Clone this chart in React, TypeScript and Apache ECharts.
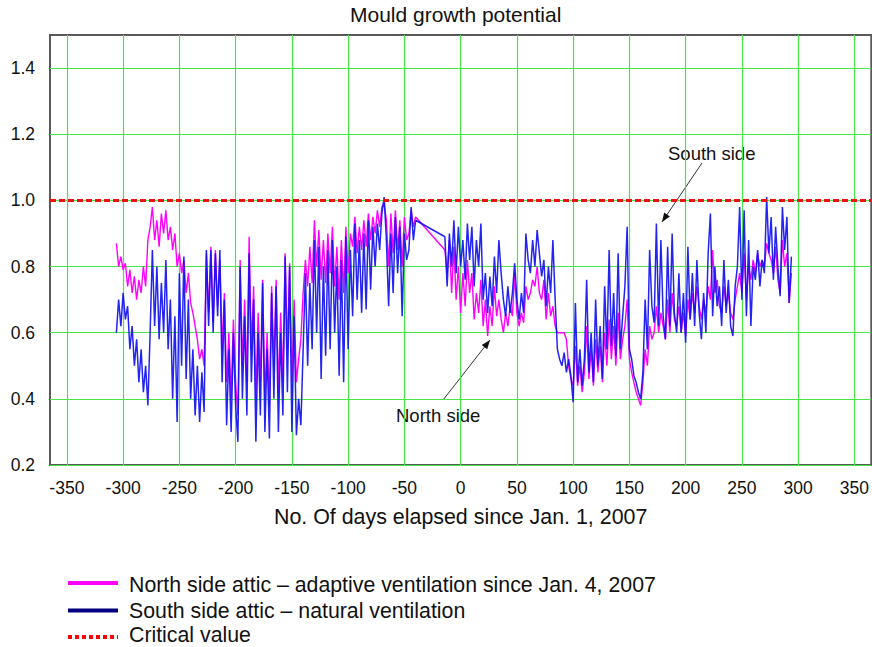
import React, { useEffect, useRef } from 'react';
import * as echarts from 'echarts';

const TITLE = 'Mould growth potential';
const X_NAME = 'No. Of days elapsed since Jan. 1, 2007';
const X_MIN = -365;
const X_MAX = 365;
const Y_MIN = 0.2;
const Y_MAX = 1.5;
const X_TICKS = [-350, -300, -250, -200, -150, -100, -50, 0, 50, 100, 150, 200, 250, 300, 350];
const Y_TICKS = [0.2, 0.4, 0.6, 0.8, 1.0, 1.2, 1.4];
const CRITICAL = 1.0;

const NORTH_NAME = 'North side attic \u2013 adaptive ventilation since Jan. 4, 2007';
const SOUTH_NAME = 'South side attic \u2013 natural ventilation';
const CRITICAL_NAME = 'Critical value';

// daily readings sampled every 2 days starting at day -306
const DAY_START = -306;
const DAY_STEP = 2;

const SOUTH = [
  0.60, 0.70, 0.62, 0.72, 0.64,
  0.68, 0.55, 0.62, 0.50, 0.58,
  0.45, 0.55, 0.42, 0.50, 0.38,
  0.60, 0.85, 0.62, 0.80, 0.58,
  0.75, 0.60, 0.82, 0.55, 0.70,
  0.40, 0.65, 0.33, 0.78, 0.50,
  0.83, 0.46, 0.70, 0.40, 0.55,
  0.35, 0.50, 0.33, 0.48, 0.36,
  0.85, 0.62, 0.85, 0.60, 0.84,
  0.65, 0.85, 0.45, 0.70, 0.32,
  0.55, 0.30, 0.60, 0.38, 0.27,
  0.80, 0.40, 0.65, 0.35, 0.84,
  0.45, 0.70, 0.27, 0.60, 0.35,
  0.75, 0.30, 0.55, 0.28, 0.72,
  0.40, 0.74, 0.30, 0.60, 0.35,
  0.83, 0.42, 0.80, 0.30, 0.65,
  0.29, 0.40, 0.32, 0.55, 0.78,
  0.50, 0.75, 0.55, 0.88, 0.60,
  0.86, 0.46, 0.80, 0.53, 0.85,
  0.55, 0.88, 0.60, 0.80, 0.47,
  0.82, 0.45, 0.89, 0.55, 0.85,
  0.65, 0.93, 0.70, 0.88, 0.66,
  0.90, 0.67, 0.94, 0.73, 0.92,
  0.80, 0.93, 0.85, 0.96, 1.01,
  0.88, 0.68, 0.90, 0.72, 0.95,
  0.78, 0.92, 0.65, 0.90, 0.82,
  0.85, 0.98, 0.88, 0.94, null,
  null, null, null, null, null,
  null, null, null, null, null,
  null, 0.89, 0.74, 0.90, 0.80,
  0.94, 0.78, 0.92, 0.80, 0.88,
  0.76, 0.93, 0.82, 0.92, 0.74,
  0.88, 0.80, 0.93, 0.70, 0.78,
  0.66, 0.77, 0.68, 0.83, 0.72,
  0.88, 0.78, 0.70, 0.65, 0.74,
  0.66, 0.72, 0.81, 0.70, 0.64,
  0.72, 0.66, 0.90, 0.82, 0.78,
  0.88, 0.80, 0.91, 0.84, 0.77,
  0.82, 0.68, 0.80, 0.72, 0.88,
  0.70, 0.55, 0.52, 0.50, 0.54,
  0.48, 0.52, 0.47, 0.39, 0.69,
  0.45, 0.55, 0.44, 0.52, 0.76,
  0.48, 0.60, 0.45, 0.70, 0.50,
  0.62, 0.46, 0.74, 0.55, 0.85,
  0.56, 0.72, 0.53, 0.84, 0.55,
  0.65, 0.74, 0.92, 0.55, 0.52,
  0.47, 0.45, 0.42, 0.40, 0.48,
  0.70, 0.55, 0.85, 0.68, 0.63,
  0.93, 0.62, 0.88, 0.65, 0.58,
  0.86, 0.62, 0.90, 0.66, 0.60,
  0.78, 0.60, 0.72, 0.57, 0.86,
  0.64, 0.78, 0.62, 0.82, 0.66,
  0.58, 0.72, 0.60, 0.84, 0.96,
  0.65, 0.80, 0.68, 0.74, 0.62,
  0.82, 0.66, 0.76, 0.62, 0.59,
  0.74, 0.80, 0.98, 0.70, 0.97,
  0.65, 0.88, 0.62, 0.80, 0.76,
  0.85, 0.74, 0.82, 0.78, 1.01,
  0.84, 0.95, 0.76, 0.92, 0.80,
  0.71, 0.98, 0.85, 0.95, 0.69,
  0.83,
];

const NORTH = [
  0.87, 0.80, 0.83, 0.79, 0.81,
  0.74, 0.79, 0.72, 0.77, 0.70,
  0.76, 0.72, 0.80, 0.74, 0.88,
  0.92, 0.98, 0.88, 0.94, 0.86,
  0.96, 0.90, 0.97, 0.88, 0.92,
  0.85, 0.90, 0.80, 0.84, 0.78,
  0.82, 0.72, 0.78, 0.69, 0.66,
  0.62, 0.58, 0.52, 0.55, 0.50,
  0.84, 0.66, 0.86, 0.63, 0.85,
  0.68, 0.82, 0.55, 0.72, 0.45,
  0.60, 0.40, 0.64, 0.45, 0.35,
  0.82, 0.50, 0.70, 0.45, 0.89,
  0.55, 0.74, 0.40, 0.66, 0.45,
  0.76, 0.40, 0.60, 0.38, 0.74,
  0.50, 0.76, 0.42, 0.66, 0.45,
  0.84, 0.55, 0.81, 0.45, 0.70,
  0.45, 0.52, 0.58, 0.72, 0.82,
  0.74, 0.86, 0.75, 0.94, 0.80,
  0.91, 0.76, 0.88, 0.75, 0.90,
  0.78, 0.92, 0.74, 0.86, 0.70,
  0.88, 0.72, 0.92, 0.78, 0.90,
  0.86, 0.95, 0.84, 0.92, 0.85,
  0.94, 0.86, 0.96, 0.88, 0.95,
  0.90, 0.97, 0.92, 0.98, 0.99,
  0.94, 0.80, 0.96, 0.84, 0.97,
  0.85, 0.94, 0.80, 0.95, 0.88,
  0.90, 0.97, 0.92, 0.95, null,
  null, null, null, null, null,
  null, null, null, null, null,
  null, 0.85, 0.78, 0.88, 0.72,
  0.86, 0.70, 0.80, 0.66, 0.78,
  0.68, 0.82, 0.72, 0.78, 0.64,
  0.72, 0.66, 0.76, 0.62, 0.70,
  0.59, 0.68, 0.62, 0.74, 0.65,
  0.70, 0.64, 0.60, 0.66, 0.62,
  0.68, 0.65, 0.78, 0.66, 0.62,
  0.66, 0.63, 0.74, 0.70, 0.72,
  0.76, 0.74, 0.80, 0.72, 0.70,
  0.76, 0.64, 0.72, 0.65, 0.68,
  0.62, 0.60, 0.60, 0.60, 0.60,
  0.58, 0.50, 0.46, 0.44, 0.56,
  0.44, 0.50, 0.42, 0.48, 0.62,
  0.46, 0.55, 0.44, 0.58, 0.48,
  0.56, 0.45, 0.60, 0.50, 0.64,
  0.52, 0.62, 0.50, 0.66, 0.52,
  0.58, 0.62, 0.70, 0.52, 0.48,
  0.45, 0.42, 0.40, 0.38, 0.45,
  0.55, 0.50, 0.62, 0.58, 0.60,
  0.68, 0.60, 0.66, 0.62, 0.58,
  0.70, 0.60, 0.72, 0.64, 0.62,
  0.68, 0.60, 0.66, 0.59, 0.70,
  0.64, 0.72, 0.66, 0.74, 0.68,
  0.64, 0.70, 0.66, 0.74, 0.70,
  0.85, 0.72, 0.76, 0.68, 0.66,
  0.74, 0.68, 0.72, 0.66, 0.64,
  0.70, 0.74, 0.78, 0.72, 0.84,
  0.70, 0.80, 0.76, 0.82, 0.78,
  0.84, 0.80, 0.82, 0.80, 0.87,
  0.84, 0.82, 0.78, 0.86, 0.76,
  0.72, 0.88, 0.80, 0.84, 0.69,
  0.78,
];

const FONT = '"Liberation Sans", Arial, Helvetica, sans-serif';
const PINK = '#ff00ff';
const BLUE = '#1010f2';
const NAVY = '#000080';
const RED = '#ee1111';
const GREEN = '#46e846';
const TEXT = '#111111';

type Pt = [number, number];

function arrowHead(tip: Pt, from: Pt, len = 9, half = 3.5): Pt[] {
  const dx = tip[0] - from[0];
  const dy = tip[1] - from[1];
  const L = Math.hypot(dx, dy);
  const ux = dx / L;
  const uy = dy / L;
  const bx = tip[0] - ux * len;
  const by = tip[1] - uy * len;
  return [
    [tip[0], tip[1]],
    [bx - uy * half, by + ux * half],
    [bx + uy * half, by - ux * half],
  ];
}

function annotation(label: string, textX: number, textY: number, from: Pt, tip: Pt) {
  return [
    {
      type: 'text',
      x: textX,
      y: textY,
      style: { text: label, fontSize: 18.5, fontFamily: FONT, fill: TEXT, verticalAlign: 'middle' },
    },
    {
      type: 'line',
      shape: { x1: from[0], y1: from[1], x2: tip[0], y2: tip[1] },
      style: { stroke: '#333', lineWidth: 1 },
    },
    {
      type: 'polygon',
      shape: { points: arrowHead(tip, from) },
      style: { fill: '#111' },
    },
  ];
}

function legendItem(label: string, lineY: number, textY: number, color: string, dash?: number[]) {
  return [
    {
      type: 'line',
      shape: { x1: 68, y1: lineY, x2: 118, y2: lineY },
      style: { stroke: color, lineWidth: 4, lineDash: dash || null },
    },
    {
      type: 'text',
      x: 129,
      y: textY,
      style: { text: label, fontSize: 21.3, fontFamily: FONT, fill: TEXT, verticalAlign: 'middle' },
    },
  ];
}

export default function App() {
  const ref = useRef<HTMLDivElement>(null);

  useEffect(() => {
    if (!ref.current) return;
    const chart = echarts.init(ref.current, null, { renderer: 'svg' });
    const toData = (vals: (number | null)[]) =>
      vals.map((v, i) => [DAY_START + i * DAY_STEP, v === null ? '-' : v]);

    const option: any = {
      animation: false,
      backgroundColor: '#ffffff',
      textStyle: { fontFamily: FONT },
      title: {
        text: TITLE,
        left: 350,
        top: 4,
        padding: 0,
        textStyle: { fontSize: 21, fontWeight: 'normal', color: TEXT, fontFamily: FONT },
      },
      grid: {
        left: 50,
        right: -6,
        top: 35,
        bottom: 182,
        show: true,
        borderColor: '#5a5a5a',
        borderWidth: 2,
        backgroundColor: 'transparent',
      },
      xAxis: {
        type: 'value',
        min: X_MIN,
        max: X_MAX,
        name: X_NAME,
        nameLocation: 'middle',
        nameGap: 41,
        nameTextStyle: { fontSize: 21.4, color: TEXT, fontFamily: FONT },
        axisLine: { show: false },
        axisTick: { show: false, customValues: X_TICKS },
        axisLabel: {
          customValues: X_TICKS,
          fontSize: 17.5,
          color: TEXT,
          margin: 14,
          fontFamily: FONT,
          formatter: (v: number) => String(v),
        },
        splitLine: { show: true, lineStyle: { color: GREEN, width: 1.2 } },
      },
      yAxis: {
        type: 'value',
        min: Y_MIN,
        max: Y_MAX,
        axisLine: { show: false },
        axisTick: { show: false, customValues: Y_TICKS },
        axisLabel: {
          customValues: Y_TICKS,
          fontSize: 17.5,
          color: TEXT,
          margin: 15,
          fontFamily: FONT,
          formatter: (v: number) => v.toFixed(1),
        },
        splitLine: { show: true, lineStyle: { color: GREEN, width: 1.2 } },
      },
      series: [
        {
          name: NORTH_NAME,
          type: 'line',
          data: toData(NORTH),
          showSymbol: false,
          symbol: 'none',
          connectNulls: true,
          lineStyle: { color: PINK, width: 1.4 },
          itemStyle: { color: PINK },
          z: 3,
        },
        {
          name: SOUTH_NAME,
          type: 'line',
          data: toData(SOUTH),
          showSymbol: false,
          symbol: 'none',
          connectNulls: true,
          lineStyle: { color: BLUE, width: 1.5, opacity: 0.92 },
          itemStyle: { color: BLUE },
          z: 4,
        },
        {
          name: CRITICAL_NAME,
          type: 'line',
          data: [
            [X_MIN, CRITICAL],
            [X_MAX, CRITICAL],
          ],
          showSymbol: false,
          symbol: 'none',
          lineStyle: { color: RED, width: 3, type: [6, 3] },
          itemStyle: { color: RED },
          z: 5,
        },
      ],
      graphic: [
        ...annotation('South side', 668, 153, [702, 163], [662, 222]),
        ...annotation('North side', 396, 415, [443, 400], [490, 340]),
        ...legendItem(NORTH_NAME, 583, 584.5, PINK),
        ...legendItem(SOUTH_NAME, 610.5, 610.5, NAVY),
        ...legendItem(CRITICAL_NAME, 637, 634.5, '#ff0000', [4, 3]),
      ],
    };

    chart.setOption(option);
    return () => chart.dispose();
  }, []);

  return (
    <div
      ref={ref}
      style={{ position: 'fixed', left: 0, top: 0, width: 872, height: 647, background: '#fff' }}
    />
  );
}
